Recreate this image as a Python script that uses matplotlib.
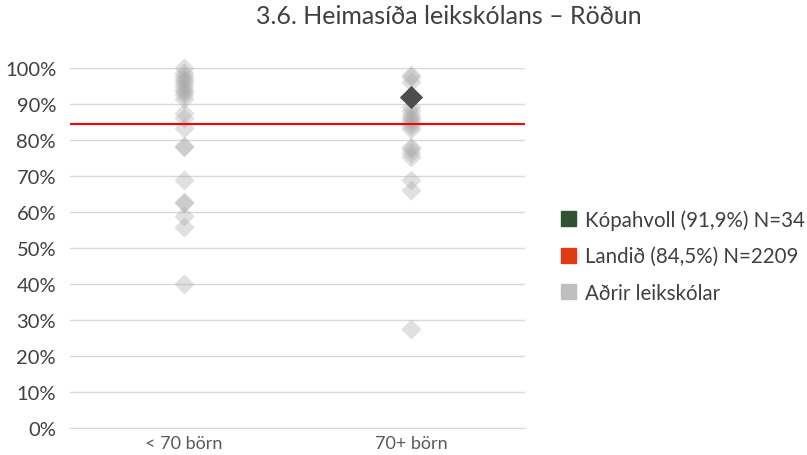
import matplotlib.pyplot as plt
from matplotlib.patches import Patch

# hlutfall (%) fyrir hvern leikskóla eftir stærð
flokkar = ['< 70 börn', '70+ börn']
minni = [100, 98.5, 97.8, 97, 96.3, 95.5, 94.8, 94, 93.2, 92.4, 91.5,
         87.5, 86, 83.3, 78, 78.2, 69, 62.5, 62.8, 59, 55.7, 40]
staerri = [98, 97.5, 96, 89.2, 88, 87, 86.2, 85.5, 84.6, 83.8, 83,
           78, 77.5, 76.5, 75.3, 69, 66, 27.5]
kopahvoll = 91.9
landid = 84.5

plt.rcParams['font.family'] = ['Lato', 'DejaVu Sans']

fig = plt.figure(figsize=(8.07, 4.56), dpi=100)
ax = fig.add_axes([70 / 807, 27 / 456, 455 / 807, 360 / 456])

for i, gildi in enumerate([minni, staerri]):
    ax.scatter([i] * len(gildi), gildi, marker='D', s=105, color='#a8a8a8',
               alpha=0.35, linewidths=0, zorder=3, clip_on=False)

ax.scatter([1], [kopahvoll], marker='D', s=140, color='#4d4d4d',
           linewidths=0, zorder=5, clip_on=False)
ax.axhline(landid, color='#ff0000', lw=1.5, zorder=4)

ax.set_xlim(-0.5, 1.5)
ax.set_ylim(0, 100)
ax.set_yticks(range(0, 101, 10))
ax.set_yticklabels([f'{v}%' for v in range(0, 101, 10)])
ax.set_xticks([0, 1])
ax.set_xticklabels(flokkar)
ax.grid(axis='y', color='#d9d9d9', lw=1)
ax.set_axisbelow(True)
for s in ['top', 'right', 'left']:
    ax.spines[s].set_visible(False)
ax.spines['bottom'].set_color('#d9d9d9')
ax.tick_params(axis='y', length=0, pad=10, labelsize=14.5, labelcolor='#404040')
ax.tick_params(axis='x', length=0, pad=5, labelsize=13, labelcolor='#595959')

fig.suptitle('3.6. Heimasíða leikskólans – Röðun', x=449 / 807, y=0.99,
             fontsize=18, color='#404040')

handles = [Patch(color='#2f5230'), Patch(color='#e03c14'), Patch(color='#bfbfbf')]
labels = ['Kópahvoll (91,9%) N=34', 'Landið (84,5%) N=2209', 'Aðrir leikskólar']
fig.legend(handles, labels, loc='center left', bbox_to_anchor=(542 / 807, 1 - 257 / 456),
           frameon=False, fontsize=14.8, handlelength=0.75, handleheight=0.75,
           handletextpad=0.45, labelspacing=0.8, labelcolor='#404040')

fig.savefig('out.png', dpi=100)
